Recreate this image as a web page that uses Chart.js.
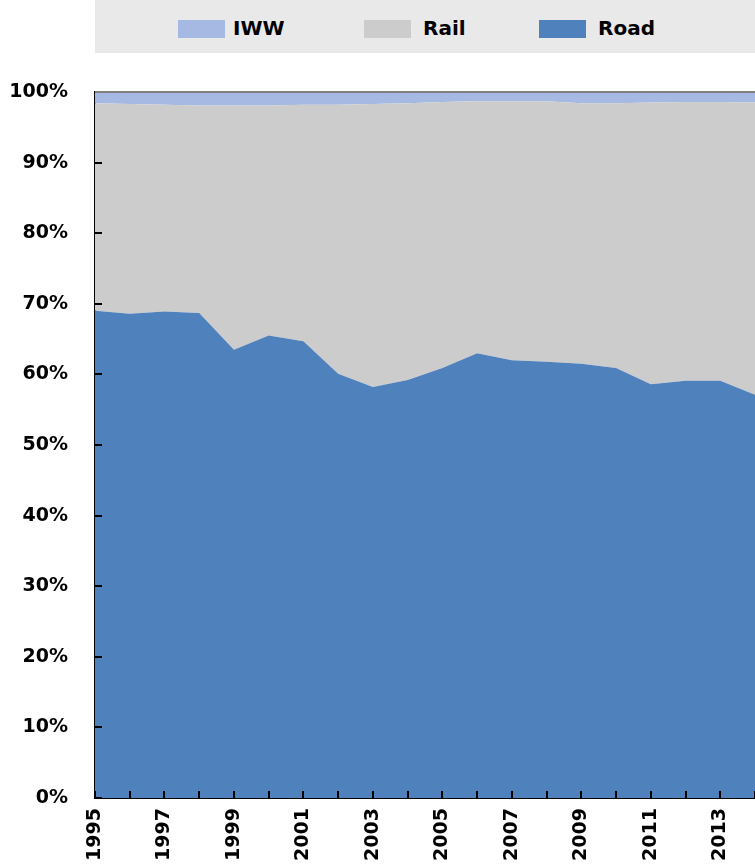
<!DOCTYPE html>
<html>
<head>
<meta charset="utf-8">
<script src="https://cdn.jsdelivr.net/npm/chart.js@4.4.0/dist/chart.umd.min.js"></script>
<style>
    body { margin: 0; background: #ffffff; font-family: 'DejaVu Sans', sans-serif; }
    #wrap { position: relative; width: 755px; height: 865px; }
    #legend { position: absolute; left: 95px; top: 0; width: 660px; height: 53px; background: #e9e9e9; }
    .item { position: absolute; top: 0; height: 53px; line-height: 57px; font-weight: bold; font-size: 20px; color: #000; }
    .swatch { position: absolute; top: 20px; width: 47px; height: 18px; }
    canvas { position: absolute; left: 0; top: 0; }
</style>
</head>
<body>
<div id="wrap">
    <canvas id="chart" width="755" height="865"></canvas>
    <div id="legend">
        <div class="swatch" style="left:83px;background:#a6b9e2"></div>
        <div class="item" style="left:138px">IWW</div>
        <div class="swatch" style="left:269px;background:#cccccc"></div>
        <div class="item" style="left:328px">Rail</div>
        <div class="swatch" style="left:444px;background:#4f81bd"></div>
        <div class="item" style="left:503px">Road</div>
    </div>
</div>
<script>
const years = ['1995', '1996', '1997', '1998', '1999', '2000', '2001', '2002', '2003', '2004',
    '2005', '2006', '2007', '2008', '2009', '2010', '2011', '2012', '2013', '2014'];
const road = [69.0, 68.6, 68.9, 68.7, 63.5, 65.5, 64.7, 60.1, 58.2, 59.2,
    60.9, 63.0, 62.0, 61.8, 61.5, 60.9, 58.6, 59.1, 59.1, 57.1];
const rail = [29.4, 29.7, 29.3, 29.4, 34.6, 32.6, 33.5, 38.1, 40.1, 39.2,
    37.7, 35.7, 36.7, 36.9, 36.9, 37.5, 39.9, 39.5, 39.5, 41.4];
const iww = [1.6, 1.7, 1.8, 1.9, 1.9, 1.9, 1.8, 1.8, 1.7, 1.6,
    1.4, 1.3, 1.3, 1.3, 1.6, 1.6, 1.5, 1.4, 1.4, 1.5];
const yTicks = [0, 10, 20, 30, 40, 50, 60, 70, 80, 90, 100];

const tickFont = { family: "'DejaVu Sans', sans-serif", size: 19, weight: 'bold' };

// inward tick marks + grey top border
const innerTicks = {
    id: 'innerTicks',
    afterDraw(chart) {
        const ctx = chart.ctx;
        const x = chart.scales.x, y = chart.scales.y;
        const area = chart.chartArea;
        ctx.save();
        ctx.strokeStyle = '#000000';
        ctx.lineWidth = 2;
        yTicks.forEach(v => {
            const py = Math.round(y.getPixelForValue(v));
            ctx.beginPath();
            ctx.moveTo(area.left, py);
            ctx.lineTo(area.left + 7, py);
            ctx.stroke();
        });
        years.forEach((yr, i) => {
            const px = Math.round(x.getPixelForValue(i));
            ctx.beginPath();
            ctx.moveTo(px, area.bottom);
            ctx.lineTo(px, area.bottom - 7);
            ctx.stroke();
        });
        ctx.strokeStyle = '#7f7f7f';
        ctx.beginPath();
        ctx.moveTo(area.left, area.top);
        ctx.lineTo(area.right, area.top);
        ctx.stroke();
        ctx.restore();
    }
};

window.addEventListener('DOMContentLoaded', function() {
    const ctx = document.getElementById('chart').getContext('2d');
    new Chart(ctx, {
        type: 'line',
        data: {
            labels: years,
            datasets: [
                { label: 'Road', data: road, backgroundColor: '#4f81bd', fill: 'origin' },
                { label: 'Rail', data: rail, backgroundColor: '#cccccc', fill: '-1' },
                { label: 'IWW', data: iww, backgroundColor: '#a6b9e2', fill: '-1' }
            ]
        },
        options: {
            responsive: false,
            animation: false,
            layout: { padding: { top: 92, right: 0, left: 0, bottom: 0 } },
            elements: {
                point: { radius: 0 },
                line: { borderWidth: 0, tension: 0 }
            },
            plugins: {
                legend: { display: false },
                tooltip: { enabled: false }
            },
            scales: {
                x: {
                    offset: false,
                    grid: { display: true, drawOnChartArea: false, drawTicks: false },
                    border: { display: true, color: '#000000', width: 2 },
                    ticks: {
                        autoSkip: false,
                        minRotation: 90,
                        maxRotation: 90,
                        padding: 10,
                        color: '#000000',
                        font: tickFont,
                        callback: function(v, i) { return i % 2 === 0 ? years[i] : ''; }
                    },
                    afterFit: function(scale) {
                        scale.height = 67;
                        scale.paddingLeft = 0;
                        scale.paddingRight = 0;
                    }
                },
                y: {
                    stacked: true,
                    min: 0,
                    max: 100,
                    grid: { display: true, drawOnChartArea: false, drawTicks: false },
                    border: { display: true, color: '#000000', width: 2 },
                    ticks: {
                        stepSize: 10,
                        padding: 27,
                        color: '#000000',
                        font: tickFont,
                        callback: v => v + '%'
                    },
                    afterFit: function(scale) {
                        scale.width = 95;
                        scale.paddingTop = 0;
                        scale.paddingBottom = 0;
                    }
                }
            }
        },
        plugins: [innerTicks]
    });
});
</script>
</body>
</html>
